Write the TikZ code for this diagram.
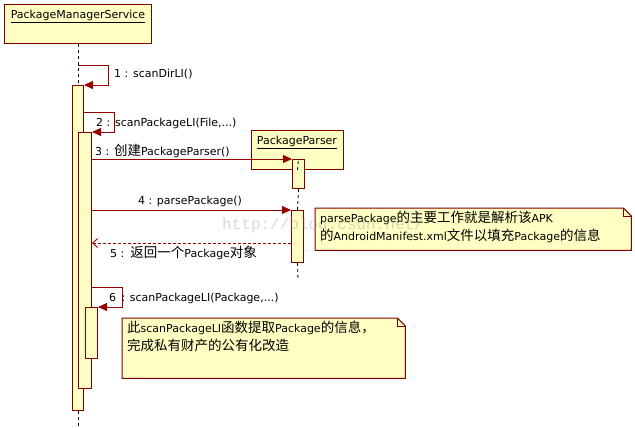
\documentclass[tikz,border=0pt]{standalone}
\usepackage{fontspec}
\setmainfont{DejaVu Sans}
\newfontfamily\cjkf{Noto Sans CJK SC}
\newfontfamily\wmfont{Liberation Mono}
\newcommand\zh[1]{{\cjkf\fontsize{13.5}{18}\selectfont #1}}
\usetikzlibrary{arrows.meta,calc}
\definecolor{ln}{HTML}{990000}
\definecolor{bd}{HTML}{800000}
\definecolor{fl}{HTML}{FFFFC4}
\tikzset{
  objbox/.style={draw=bd, fill=fl, line width=1pt, inner sep=0pt, anchor=north west},
  actbox/.style={draw=bd, fill=fl, line width=1pt, inner sep=0pt, anchor=north west},
  life/.style={draw=black, line width=0.8pt, dash pattern=on 3pt off 3pt},
  msg/.style={draw=ln, line width=0.9pt, -{Triangle[length=9pt,width=8pt]}},
  ret/.style={draw=ln, line width=0.9pt, dash pattern=on 3pt off 2pt, -{Straight Barb[length=5pt,width=9pt]}},
  lbl/.style={font=\fontsize{11}{13}\selectfont, inner sep=0pt, text=black},
  notebox/.style={draw=bd, fill=fl, line width=1pt},
  notetext/.style={font=\fontsize{11}{18}\selectfont, inner sep=0pt, align=left, anchor=north west}
}
\begin{document}
\begin{tikzpicture}[x=1pt,y=-1pt]
\useasboundingbox[fill=white] (0,0) rectangle (635,428);
% object boxes
\node[objbox, minimum width=147pt, minimum height=39pt] (pms) at (4,4) {};
\node[lbl, anchor=center] (pmst) at (78,16) {\underline{PackageManagerService}};
\node[objbox, minimum width=92pt, minimum height=39pt] (pp) at (251,130) {};
\node[lbl, anchor=center] (ppt) at (297,142) {\underline{PackageParser}};
% activation bars
\node[actbox, minimum width=11pt, minimum height=325pt] (act1) at (72,85) {};
\node[actbox, minimum width=13pt, minimum height=256pt] (act2) at (78,132) {};
\node[actbox, minimum width=12pt, minimum height=51pt] (act3) at (85,307) {};
\node[actbox, minimum width=12pt, minimum height=29pt] (pa1) at (292,159) {};
\node[actbox, minimum width=12pt, minimum height=52pt] (pa2) at (291,210) {};
% lifelines
\coordinate (pmsend) at (78,428);
\draw[life] (pms.south) -- (act1.north);
\draw[life] (act1.south) -- (pmsend);
\draw[life] (pp.south) -- (pa1.north);
\draw[life] (pa1.south) -- (pa2.north);
\coordinate (ppend) at (298,280);
\draw[life] (pa2.south) -- (ppend);
% message 1
\coordinate (m1a) at (108,65);
\coordinate (m1b) at (108,85);
\draw[msg] (pms.south |- m1a) -- (m1a) -- (m1b) -- (act1.north east);
\node[lbl, anchor=west] (l1) at (114,74) {1 : scanDirLI()};
% message 2
\coordinate (m2a) at (114,112);
\coordinate (m2b) at (114,132);
\draw[msg] (act1.east |- m2a) -- (m2a) -- (m2b) -- (act2.north east);
\node[lbl, anchor=west] (l2) at (96,123) {2 : scanPackageLI(File,...)};
% message 3
\coordinate (m3) at (0,159);
\draw[msg] (act2.east |- m3) -- (pa1.north west);
\node[lbl, anchor=west] (l3) at (95,151) {3 : \zh{创建}PackageParser()};
% message 4
\draw[msg] (act2.east |- pa2.north) -- (pa2.north west);
\node[lbl, anchor=center] (l4) at (190,201) {4 : parsePackage()};
% message 5
\coordinate (m5) at (0,243);
\draw[ret] (pa2.west |- m5) -- (act2.east |- m5);
\node[lbl, anchor=west] (l5) at (110,253) {5 :\hspace{6pt}\zh{返回一个}Package\zh{对象}};
% message 6
\coordinate (m6a) at (122,287);
\coordinate (m6b) at (122,307);
\draw[msg] (act2.east |- m6a) -- (m6a) -- (m6b) -- (act3.north east);
\node[lbl, anchor=west] (l6) at (109,298) {6 \,: scanPackageLI(Package,...)};
% note 1
\node[minimum width=316pt, minimum height=42pt, anchor=north west, inner sep=0pt] (n1) at (315,208) {};
\draw[notebox] (n1.north west) -- ($(n1.north east)+(-8,0)$) -- ($(n1.north east)+(0,8)$) -- (n1.south east) -- (n1.south west) -- cycle;
\draw[draw=bd, line width=0.8pt] ($(n1.north east)+(-8,0)$) -- ($(n1.north east)+(-8,8)$) -- ($(n1.north east)+(0,8)$);
\node[notetext] (n1t) at (320,211) {parsePackage\zh{的主要工作就是解析该}APK\\\zh{的}AndroidManifest.xml\zh{文件以填充}Package\zh{的信息}};
% note 2
\node[minimum width=283pt, minimum height=60pt, anchor=north west, inner sep=0pt] (n2) at (122,318) {};
\draw[notebox] (n2.north west) -- ($(n2.north east)+(-8,0)$) -- ($(n2.north east)+(0,8)$) -- (n2.south east) -- (n2.south west) -- cycle;
\draw[draw=bd, line width=0.8pt] ($(n2.north east)+(-8,0)$) -- ($(n2.north east)+(-8,8)$) -- ($(n2.north east)+(0,8)$);
\node[notetext] (n2t) at (127,321) {\zh{此}scanPackageLI\zh{函数提取}Package\zh{的信息，}\\\zh{完成私有财产的公有化改造}};
% watermark
\node[font=\wmfont\fontsize{16}{16}\selectfont, text=gray, opacity=0.3, anchor=west, inner sep=0pt] (wm) at (222,225) {http://blog.csdn.net/};
\end{tikzpicture}
\end{document}
